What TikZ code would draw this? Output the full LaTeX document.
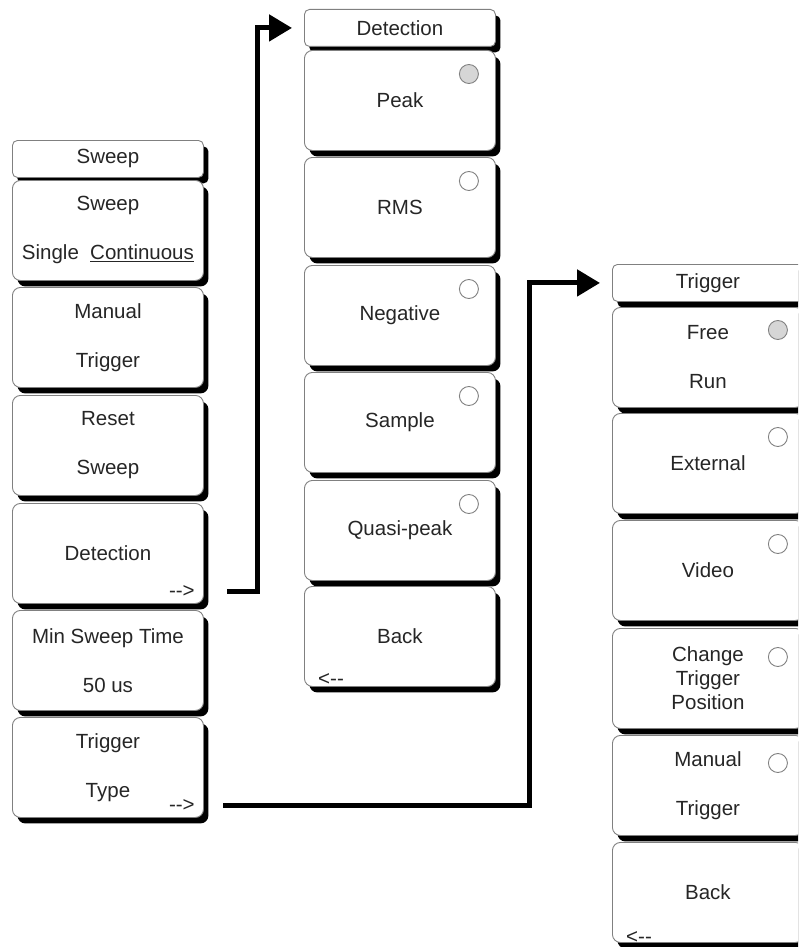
\documentclass[tikz,border=0pt]{standalone}
\usepackage{fontspec}
\setmainfont{Liberation Sans}
\usetikzlibrary{arrows.meta,shadows}
\definecolor{keyline}{HTML}{808080}
\definecolor{radiosel}{HTML}{D6D6D6}
\begin{document}
\begin{tikzpicture}[x=1pt,y=-1pt,
  every node/.style={font=\fontsize{20.5}{24}\selectfont,text=black!85},
  menukey/.style={draw=keyline,line width=0.9pt,fill=white,rounded corners=8pt,
    minimum width=191pt,minimum height=100pt,anchor=north west,align=center,
    general shadow={shadow xshift=5pt,shadow yshift=-6pt,fill=black}},
  menuhead/.style={menukey,minimum height=37pt,rounded corners=5pt},
  radio/.style={draw=keyline,circle,fill=white,minimum size=19pt,inner sep=0pt,line width=0.9pt},
  more/.style={anchor=base east,inner sep=0pt},
  back/.style={anchor=base west,inner sep=0pt},
  link/.style={line width=5pt,-{Triangle[length=23pt,width=26pt]},shorten >=12pt}]
\clip (0,0) rectangle (798,947);
% sweep menu
\node[menuhead] (hSweep) at (12,140) {Sweep};
\node[menukey] (kSweep) at (12,180) {Sweep\\[25pt]Single\hspace{0.55em}\underline{Continuous}};
\node[menukey] (kManual) at (12,287) {Manual\\[25pt]Trigger};
\node[menukey] (kReset) at (12,395) {Reset\\[25pt]Sweep};
\node[menukey] (kDetect) at (12,503) {Detection};
\node[menukey] (kMinTime) at (12,610) {Min Sweep Time\\[25pt]50 us};
\node[menukey] (kTrigType) at (12,717) {Trigger\\[25pt]Type};
\node[more] (mDetect) at ([xshift=-9pt,yshift=6pt]kDetect.south east) {-{}->};
\node[more] (mTrigType) at ([xshift=-9pt,yshift=6pt]kTrigType.south east) {-{}->};
% detection menu
\node[menuhead] (hDetect) at (304,9) {Detection};
\node[menukey] (kPeak) at (304,50) {Peak};
\node[menukey] (kRms) at (304,157) {RMS};
\node[menukey] (kNeg) at (304,265) {Negative};
\node[menukey] (kSample) at (304,372) {Sample};
\node[menukey] (kQuasi) at (304,480) {Quasi-peak};
\node[menukey] (kBackD) at (304,586) {Back};
\node[back] (bDetect) at ([xshift=14pt,yshift=1pt]kBackD.south west) {<-{}-};
\node[radio,fill=radiosel] (rPeak) at ([xshift=-27pt,yshift=-24pt]kPeak.north east) {};
\node[radio] (rRms) at ([xshift=-27pt,yshift=-24pt]kRms.north east) {};
\node[radio] (rNeg) at ([xshift=-27pt,yshift=-24pt]kNeg.north east) {};
\node[radio] (rSample) at ([xshift=-27pt,yshift=-24pt]kSample.north east) {};
\node[radio] (rQuasi) at ([xshift=-27pt,yshift=-24pt]kQuasi.north east) {};
% trigger menu
\node[menuhead] (hTrig) at (612,264) {Trigger};
\node[menukey] (kFree) at (612,307) {Free\\[25pt]Run};
\node[menukey] (kExt) at (612,413) {External};
\node[menukey] (kVideo) at (612,520) {Video};
\node[menukey] (kChange) at (612,628) {Change\\Trigger\\Position};
\node[menukey] (kManTrig) at (612,735) {Manual\\[25pt]Trigger};
\node[menukey] (kBackT) at (612,842) {Back};
\node[back] (bTrig) at ([xshift=14pt,yshift=-1pt]kBackT.south west) {<-{}-};
\node[radio,fill=radiosel] (rFree) at ([xshift=-26pt,yshift=-23pt]kFree.north east) {};
\node[radio] (rExt) at ([xshift=-26pt,yshift=-24pt]kExt.north east) {};
\node[radio] (rVideo) at ([xshift=-26pt,yshift=-24pt]kVideo.north east) {};
\node[radio] (rChange) at ([xshift=-26pt,yshift=-29pt]kChange.north east) {};
\node[radio] (rManTrig) at ([xshift=-26pt,yshift=-28pt]kManTrig.north east) {};
% links
\coordinate (d0) at (227,591);
\coordinate (d1) at (257,591);
\draw[link] (d0) -- (d1) |- (hDetect.west);
\coordinate (t0) at (223,805);
\coordinate (t1) at (529,805);
\draw[link] (t0) -- (t1) |- (hTrig.west);
\end{tikzpicture}
\end{document}
